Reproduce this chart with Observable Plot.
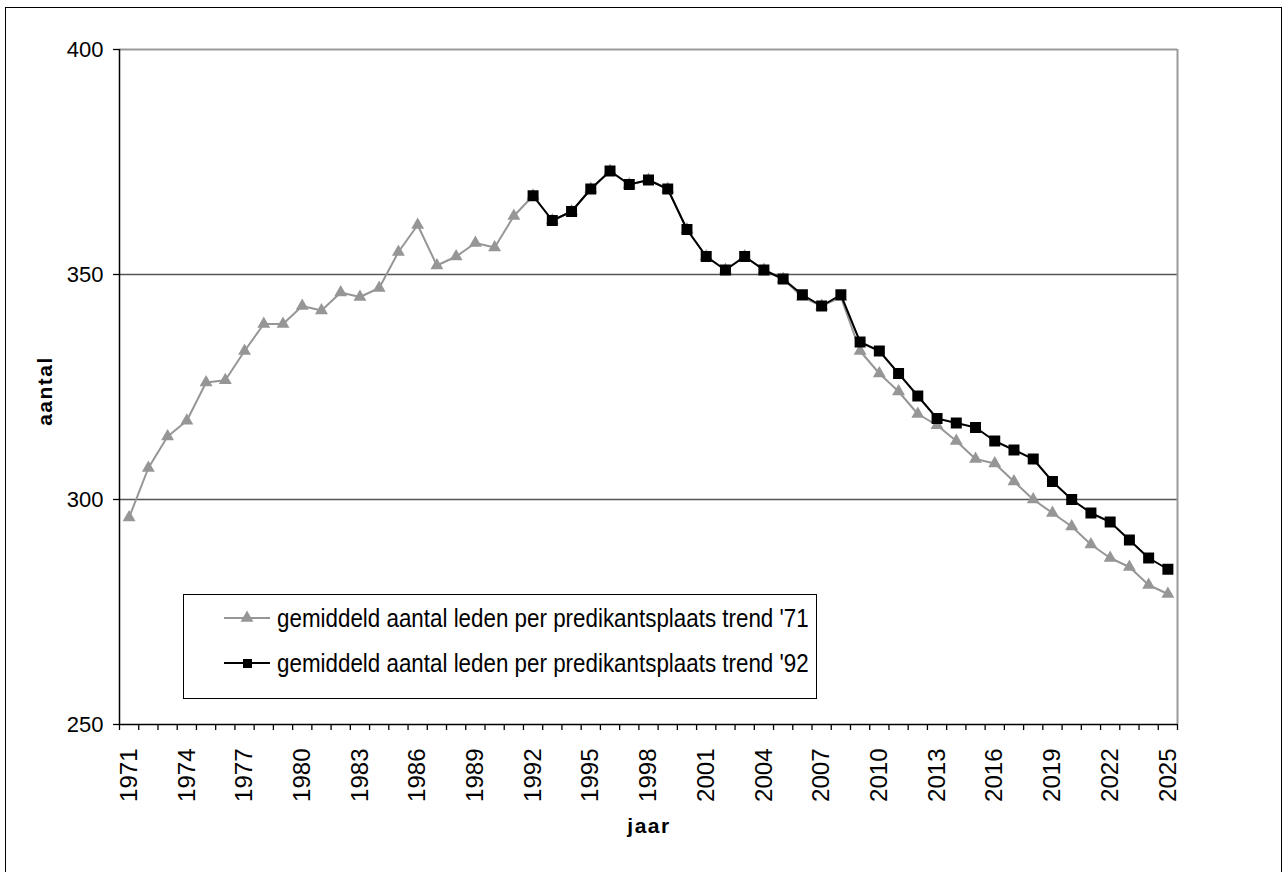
<!DOCTYPE html>
<html>
<head>
<meta charset="utf-8">
<script src="https://cdn.jsdelivr.net/npm/d3@7"></script>
<script src="https://cdn.jsdelivr.net/npm/@observablehq/plot@0.6"></script>
<style>
  html, body { margin: 0; padding: 0; background: #fff; overflow: hidden; }
  #wrap { position: relative; width: 1288px; height: 872px; font-family: 'Liberation Sans', Arial, sans-serif; }
  #frame { position: absolute; left: 5px; top: 7px; width: 1277px; height: 880px; border: 1.5px solid #000; box-sizing: border-box; }
  #legend { position: absolute; left: 183px; top: 594px; width: 634px; height: 105px; border: 1.5px solid #000; box-sizing: border-box; background: #fff; }
  .row { position: absolute; left: 38px; display: flex; align-items: center; font-size: 25px; color: #000; white-space: nowrap; }
  .row svg { margin-right: 5px; flex: none; }
  .row span { display: inline-block; transform: scaleX(0.895); transform-origin: 0 50%; }
  #chart { position: absolute; left: 0; top: 0; }
  .ttl { position: absolute; font-family: 'Liberation Sans', Arial, sans-serif; font-weight: bold; font-size: 21px; letter-spacing: 1.5px; }
</style>
</head>
<body>
<div id="wrap">
  <div id="frame"></div>
  <div id="chart"></div>
  <div id="legend"></div>
  <div class="ttl" id="ytitle" style="left:45px; top:391px; transform: translate(-50%,-50%) rotate(-90deg);">aantal</div>
  <div class="ttl" id="xtitle" style="left:649px; top:826px; transform: translate(-50%,-50%);">jaar</div>
</div>
<script>
// ---- data ----
const years = [1971,1972,1973,1974,1975,1976,1977,1978,1979,1980,1981,1982,1983,1984,1985,1986,1987,1988,1989,1990,
  1991,1992,1993,1994,1995,1996,1997,1998,1999,2000,2001,2002,2003,2004,2005,2006,2007,2008,2009,2010,
  2011,2012,2013,2014,2015,2016,2017,2018,2019,2020,2021,2022,2023,2024,2025];

const trend71 = [296,307,314,317.5,326,326.5,333,339,339,343,342,346,345,347,355,361,352,354,357,356,
  363,367.5,362,364,369,373,370,371,369,360,354,351,354,351,349,345,343,345,333,328,
  324,319,316.5,313,309,308,304,300,297,294,290,287,285,281,279];

const years92 = [1992,1993,1994,1995,1996,1997,1998,1999,2000,2001,2002,2003,2004,2005,2006,2007,2008,2009,2010,
  2011,2012,2013,2014,2015,2016,2017,2018,2019,2020,2021,2022,2023,2024,2025];
const trend92 = [367.5,362,364,369,373,370,371,369,360,354,351,354,351,349,345.5,343,345.5,335,333,
  328,323,318,317,316,313,311,309,304,300,297,295,291,287,284.5];

const yTicks = [250,300,350,400];
const gridValues = [300,350];
const seriesNames = ["gemiddeld aantal leden per predikantsplaats trend '71",
                     "gemiddeld aantal leden per predikantsplaats trend '92"];
const seriesColors = ["#969696", "#000000"];

// ---- derived tables ----
const d71 = years.map((y,i) => ({year:y, value:trend71[i]}));
const d92 = years92.map((y,i) => ({year:y, value:trend92[i]}));
const labelYears = years.filter((d,i) => i % 3 === 0);
const boundaries = years.map(y => y - 0.5).concat([years[years.length-1] + 0.5]);
const xDomain = [years[0] - 0.5, years[years.length-1] + 0.5];

const font = "'Liberation Sans', Arial, sans-serif";

const chart = Plot.plot({
  width: 1288,
  height: 872,
  marginLeft: 119,
  marginRight: 111,
  marginTop: 49,
  marginBottom: 148,
  style: {fontFamily: font, fontSize: "22px", color: "#000", background: "transparent", overflow: "visible"},
  x: {type: "linear", domain: xDomain, label: null},
  y: {domain: [250, 400], label: null},
  marks: [
    Plot.ruleY(gridValues, {stroke: "#555", strokeWidth: 1.3}),
    Plot.ruleY([400], {stroke: "#999", strokeWidth: 2}),
    Plot.ruleX([xDomain[1]], {stroke: "#999", strokeWidth: 2}),
    Plot.axisY(yTicks, {tickSize: 6, tickPadding: 10, tickFormat: d => String(d), label: null, stroke: "#000", strokeWidth: 1.3}),
    Plot.axisX(boundaries, {tickSize: 6, tickFormat: () => "", label: null, stroke: "#000", strokeWidth: 1.3}),
    Plot.axisX(labelYears, {tickSize: 0, tickRotate: -90, tickPadding: 24, fontSize: 24, tickFormat: d => String(d), label: null}),
    Plot.ruleX([xDomain[0]], {stroke: "#000", strokeWidth: 1.5}),
    Plot.ruleY([250], {stroke: "#000", strokeWidth: 1.5}),
    Plot.line(d71, {x: "year", y: "value", stroke: seriesColors[0], strokeWidth: 2}),
    Plot.dot(d71, {x: "year", y: "value", symbol: "triangle", fill: seriesColors[0], stroke: "none", r: 4.8}),
    Plot.line(d92, {x: "year", y: "value", stroke: seriesColors[1], strokeWidth: 2}),
    Plot.dot(d92, {x: "year", y: "value", symbol: "square", fill: seriesColors[1], stroke: "none", r: 6.2})
  ]
});
document.getElementById("chart").appendChild(chart);

// ---- legend ----
const legend = d3.select("#legend");
seriesNames.forEach((name, i) => {
  const row = legend.append("div").attr("class", "row").style("top", (i === 0 ? 9 : 54) + "px").style("height", "28px");
  const sw = row.append("svg").attr("width", 50).attr("height", 28);
  sw.append("line").attr("x1", 2).attr("x2", 48).attr("y1", 14).attr("y2", 14)
    .attr("stroke", seriesColors[i]).attr("stroke-width", 2);
  if (i === 0) {
    sw.append("path").attr("d", d3.symbol(d3.symbolTriangle, Math.PI * 4.8 * 4.8)()).attr("transform", "translate(25,14)").attr("fill", seriesColors[i]);
  } else {
    sw.append("rect").attr("x", 21).attr("y", 10).attr("width", 9).attr("height", 9).attr("fill", seriesColors[i]);
  }
  row.append("span").text(name);
});
</script>
</body>
</html>
